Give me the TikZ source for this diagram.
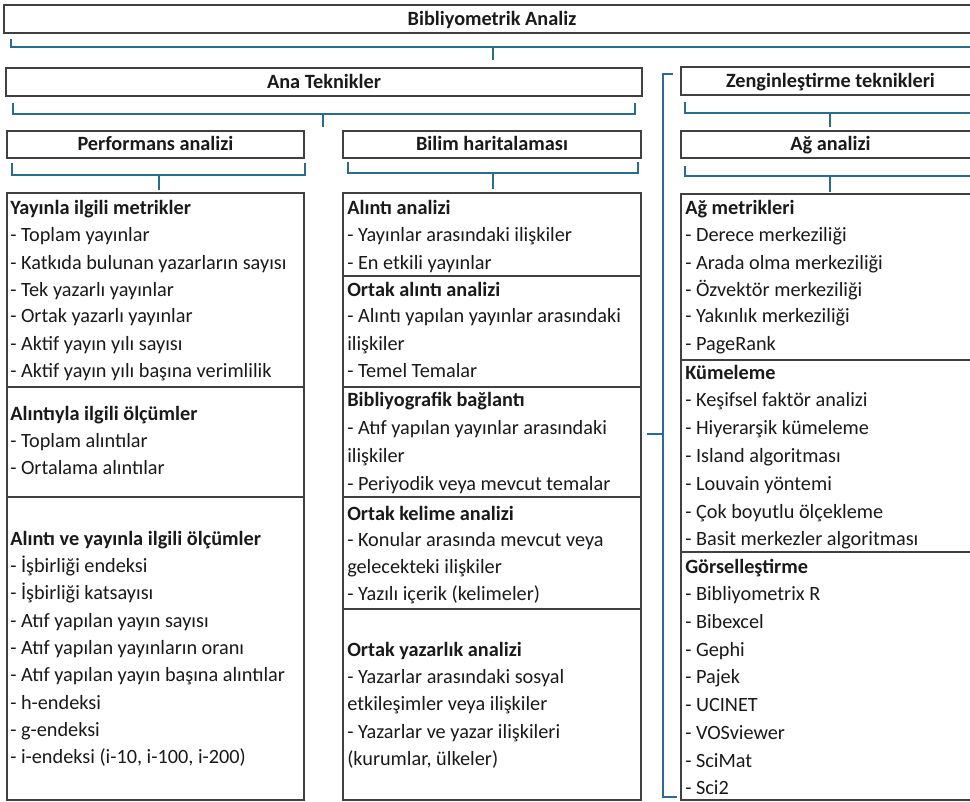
\documentclass[tikz,border=0pt]{standalone}
\usepackage{fontspec}
\setmainfont{Carlito}
\usetikzlibrary{fit}
\definecolor{brk}{HTML}{2A6C8E}
\definecolor{boxc}{HTML}{404040}
\definecolor{txtc}{HTML}{1A1A1A}
\newcommand\lns[1]{\begin{tabular}[t]{@{}l@{}}#1\end{tabular}}
\begin{document}
\begin{tikzpicture}[x=0.75pt,y=-0.75pt,
  box/.style={draw=boxc, line width=0.9pt, inner sep=0pt},
  hlab/.style={inner sep=0pt, anchor=base, yshift=-4.6pt, text=txtc, font=\fontsize{15.2}{18}\selectfont\bfseries},
  brack/.style={draw=brk, line width=1.6pt},
  txt/.style={anchor=base west, inner sep=0pt, text=txtc, font=\fontsize{15.2}{#1}\selectfont},
]
\useasboundingbox (0,0) rectangle (970,802);
\clip (0,0) rectangle (970,802);
\fill[white] (0,0) rectangle (970,802);

% ---- header boxes ----
\coordinate (c1) at (4,5);    \coordinate (c2) at (980,33);
\node[box, fit=(c1)(c2)] (biblio) {};
\node[hlab] (biblioT) at (biblio.center) {Bibliyometrik Analiz};
\coordinate (c3) at (6,68);   \coordinate (c4) at (642,96);
\node[box, fit=(c3)(c4)] (ana) {};
\node[hlab] (anaT) at (ana.center) {Ana Teknikler};
\coordinate (c5) at (681,67); \coordinate (c6) at (980,95);
\node[box, fit=(c5)(c6)] (zen) {};
\node[hlab] (zenT) at (zen.center) {Zenginleştirme teknikleri};
\coordinate (c7) at (7,131);  \coordinate (c8) at (304,158);
\node[box, fit=(c7)(c8)] (perf) {};
\node[hlab] (perfT) at (perf.center) {Performans analizi};
\coordinate (c9) at (343,131); \coordinate (c10) at (641,158);
\node[box, fit=(c9)(c10)] (bilim) {};
\node[hlab] (bilimT) at (bilim.center) {Bilim haritalaması};
\coordinate (c11) at (681,131); \coordinate (c12) at (980,158);
\node[box, fit=(c11)(c12)] (ag) {};
\node[hlab] (agT) at (ag.center) {Ağ analizi};

% ---- section boxes ----
\coordinate (l0) at (7,193); \coordinate (l1) at (304,387);
\coordinate (l2) at (7,387); \coordinate (l3) at (304,497);
\coordinate (l4) at (7,497); \coordinate (l5) at (304,800);
\node[box, fit=(l0)(l1)] (L1) {};
\node[box, fit=(l2)(l3)] (L2) {};
\node[box, fit=(l4)(l5)] (L3) {};
\coordinate (m0) at (343,193); \coordinate (m1) at (641,276);
\coordinate (m2) at (343,276); \coordinate (m3) at (641,387);
\coordinate (m4) at (343,387); \coordinate (m5) at (641,497);
\coordinate (m6) at (343,497); \coordinate (m7) at (641,609);
\coordinate (m8) at (343,609); \coordinate (m9) at (641,800);
\node[box, fit=(m0)(m1)] (M1) {};
\node[box, fit=(m2)(m3)] (M2) {};
\node[box, fit=(m4)(m5)] (M3) {};
\node[box, fit=(m6)(m7)] (M4) {};
\node[box, fit=(m8)(m9)] (M5) {};
\coordinate (r0) at (681,194); \coordinate (r1) at (980,360);
\coordinate (r2) at (681,360); \coordinate (r3) at (980,552);
\coordinate (r4) at (681,552); \coordinate (r5) at (980,800);
\node[box, fit=(r0)(r1)] (R1) {};
\node[box, fit=(r2)(r3)] (R2) {};
\node[box, fit=(r4)(r5)] (R3) {};

% ---- brackets ----
\draw[brack] (11,39) -- (11,47) -- (980,47);
\draw[brack] (493,47) -- (493,60);
\draw[brack] (13,103) -- (13,114) -- (635,114) -- (635,103);
\draw[brack] (323,114) -- (323,127);
\draw[brack] (685,102) -- (685,113) -- (980,113);
\draw[brack] (830,113) -- (830,127);
\draw[brack] (12,163) -- (12,175) -- (305,175) -- (305,163);
\draw[brack] (159,175) -- (159,190);
\draw[brack] (348,162) -- (348,173) -- (638,173) -- (638,162);
\draw[brack] (493,173) -- (493,189);
\draw[brack] (685,166) -- (685,176) -- (980,176);
\draw[brack] (830,176) -- (830,192);
\draw[brack] (673,74) -- (663,74) -- (663,797) -- (677,797);
\draw[brack] (647,434) -- (663,434);

% ---- texts ----
\node[txt=20.25pt] (tL1) at (10,215) {\lns{\textbf{Yayınla ilgili metrikler}\\- Toplam yayınlar\\- Katkıda bulunan yazarların sayısı\\- Tek yazarlı yayınlar\\- Ortak yazarlı yayınlar\\- Aktif yayın yılı sayısı\\- Aktif yayın yılı başına verimlilik}};
\node[txt=20.6pt] (tL2) at (10,420) {\lns{\textbf{Alıntıyla ilgili ölçümler}\\- Toplam alıntılar\\- Ortalama alıntılar}};
\node[txt=20.5pt] (tL3) at (10,545) {\lns{\textbf{Alıntı ve yayınla ilgili ölçümler}\\- İşbirliği endeksi\\- İşbirliği katsayısı\\- Atıf yapılan yayın sayısı\\- Atıf yapılan yayınların oranı\\- Atıf yapılan yayın başına alıntılar\\- h-endeksi\\- g-endeksi\\- i-endeksi (i-10, i-100, i-200)}};

\node[txt=20.25pt] (tM1) at (347,215) {\lns{\textbf{Alıntı analizi}\\- Yayınlar arasındaki ilişkiler\\- En etkili yayınlar}};
\node[txt=20.25pt] (tM2) at (347,296) {\lns{\textbf{Ortak alıntı analizi}\\- Alıntı yapılan yayınlar arasındaki\\ilişkiler\\- Temel Temalar}};
\node[txt=21pt] (tM3) at (347,406) {\lns{\textbf{Bibliyografik bağlantı}\\- Atıf yapılan yayınlar arasındaki\\ilişkiler\\- Periyodik veya mevcut temalar}};
\node[txt=20pt] (tM4) at (347,520) {\lns{\textbf{Ortak kelime analizi}\\- Konular arasında mevcut veya\\gelecekteki ilişkiler\\- Yazılı içerik (kelimeler)}};
\node[txt=20.5pt] (tM5) at (347,656) {\lns{\textbf{Ortak yazarlık analizi}\\- Yazarlar arasındaki sosyal\\etkileşimler veya ilişkiler\\- Yazarlar ve yazar ilişkileri\\(kurumlar, ülkeler)}};

\node[txt=20.25pt] (tR1) at (685,215) {\lns{\textbf{Ağ metrikleri}\\- Derece merkeziliği\\- Arada olma merkeziliği\\- Özvektör merkeziliği\\- Yakınlık merkeziliği\\- PageRank}};
\node[txt=20.85pt] (tR2) at (685,379) {\lns{\textbf{Kümeleme}\\- Keşifsel faktör analizi\\- Hiyerarşik kümeleme\\- Island algoritması\\- Louvain yöntemi\\- Çok boyutlu ölçekleme\\- Basit merkezler algoritması}};
\node[txt=20.8pt] (tR3) at (685,573) {\lns{\textbf{Görselleştirme}\\- Bibliyometrix R\\- Bibexcel\\- Gephi\\- Pajek\\- UCINET\\- VOSviewer\\- SciMat\\- Sci2}};
\end{tikzpicture}
\end{document}
